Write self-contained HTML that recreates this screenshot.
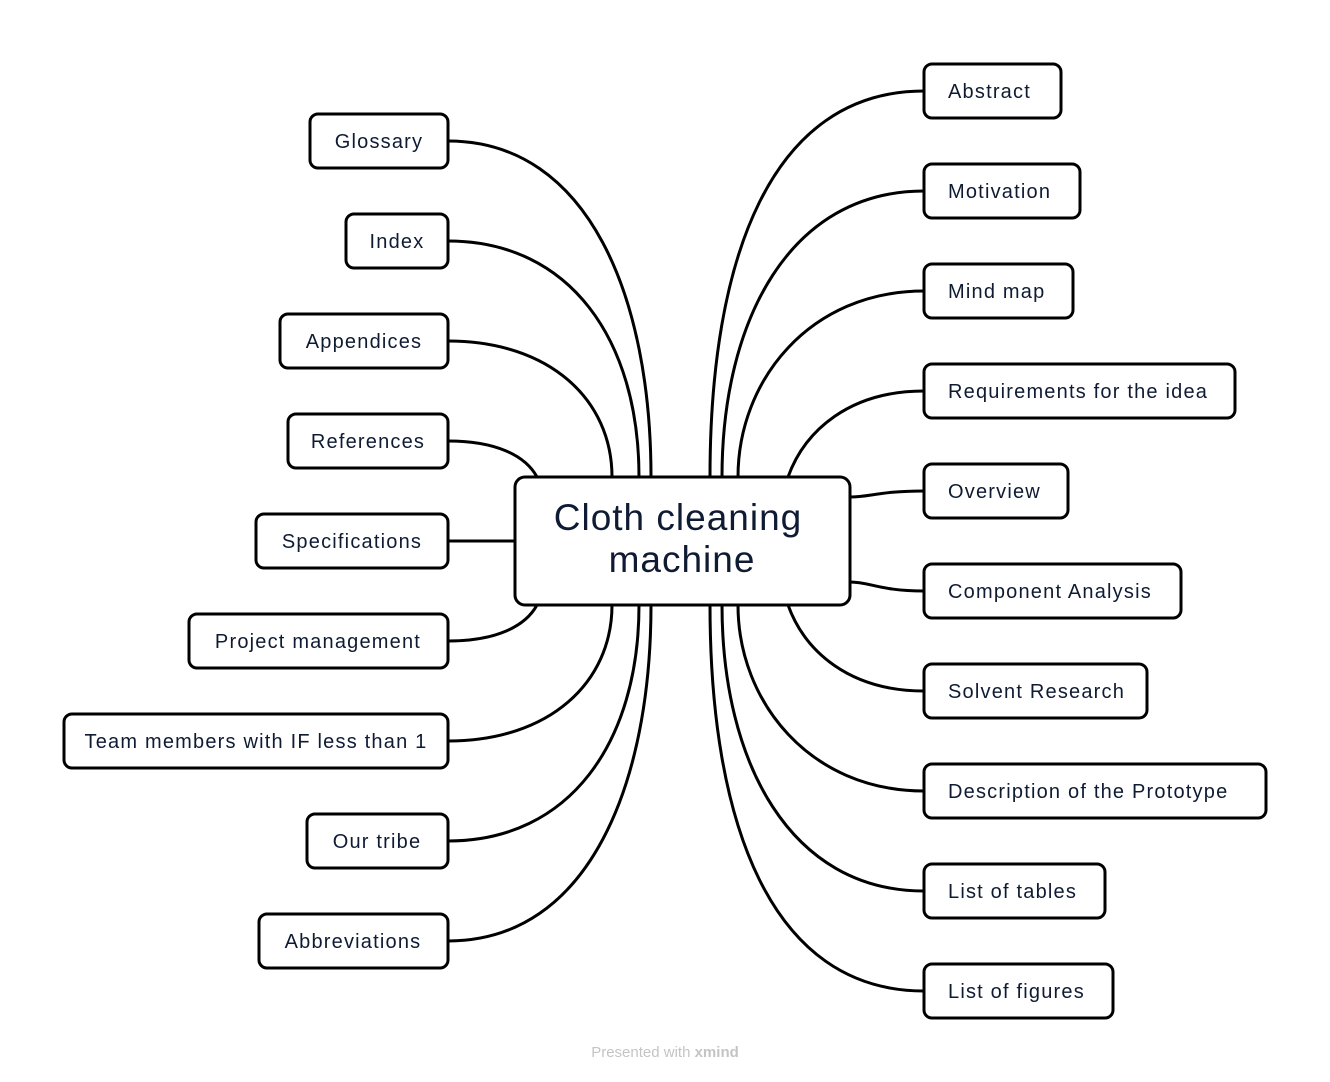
<!DOCTYPE html>
<html><head><meta charset="utf-8"><style>
html,body{margin:0;padding:0;background:#fff;}
svg{display:block;}
text{font-family:"Liberation Sans",sans-serif;fill:#0f1b33;}
</style></head><body>
<svg width="1330" height="1082" viewBox="0 0 1330 1082" xmlns="http://www.w3.org/2000/svg">
<g fill="none" stroke="#000" stroke-width="3" stroke-linecap="round">
<path d="M448,141 C590,141 651,300 651,477"/>
<path d="M448,241 C570,241 639,340 639,477"/>
<path d="M448,341 C550,341 612,400 612,477"/>
<path d="M448,441 C495,441 525,455 537,477"/>
<path d="M448,541 L515,541"/>
<path d="M448,641 C495,641 525,627 537,605"/>
<path d="M448,741 C550,741 612,682 612,605"/>
<path d="M448,841 C570,841 639,742 639,605"/>
<path d="M448,941 C590,941 651,782 651,605"/>
<path d="M924,91 C770,91 710,260 710,477"/>
<path d="M924,191 C790,191 722,320 722,477"/>
<path d="M924,291 C810,291 738,380 738,477"/>
<path d="M924,391 C850,391 805,430 788,477"/>
<path d="M924,491 C880,491 870,497 850,497"/>
<path d="M924,591 C880,591 870,582 850,582"/>
<path d="M924,691 C850,691 805,652 788,605"/>
<path d="M924,791 C810,791 738,702 738,605"/>
<path d="M924,891 C790,891 722,762 722,605"/>
<path d="M924,991 C770,991 710,822 710,605"/>
</g>
<g fill="#fff" stroke="#000" stroke-width="3">
<rect x="515" y="477" width="335" height="128" rx="10"/>
<rect x="310" y="114" width="138" height="54" rx="8"/>
<rect x="346" y="214" width="102" height="54" rx="8"/>
<rect x="280" y="314" width="168" height="54" rx="8"/>
<rect x="288" y="414" width="160" height="54" rx="8"/>
<rect x="256" y="514" width="192" height="54" rx="8"/>
<rect x="189" y="614" width="259" height="54" rx="8"/>
<rect x="64" y="714" width="384" height="54" rx="8"/>
<rect x="307" y="814" width="141" height="54" rx="8"/>
<rect x="259" y="914" width="189" height="54" rx="8"/>
<rect x="924" y="64" width="137" height="54" rx="8"/>
<rect x="924" y="164" width="156" height="54" rx="8"/>
<rect x="924" y="264" width="149" height="54" rx="8"/>
<rect x="924" y="364" width="311" height="54" rx="8"/>
<rect x="924" y="464" width="144" height="54" rx="8"/>
<rect x="924" y="564" width="257" height="54" rx="8"/>
<rect x="924" y="664" width="223" height="54" rx="8"/>
<rect x="924" y="764" width="342" height="54" rx="8"/>
<rect x="924" y="864" width="181" height="54" rx="8"/>
<rect x="924" y="964" width="189" height="54" rx="8"/>
</g>
<g font-size="20" text-anchor="middle" letter-spacing="1.2">
<text x="379" y="148">Glossary</text>
<text x="397" y="248">Index</text>
<text x="364" y="348">Appendices</text>
<text x="368" y="448">References</text>
<text x="352" y="548">Specifications</text>
<text x="318" y="648">Project management</text>
<text x="256" y="748">Team members with IF less than 1</text>
<text x="377" y="848">Our tribe</text>
<text x="353" y="948">Abbreviations</text>
</g>
<g font-size="20" letter-spacing="1.2">
<text x="948" y="98">Abstract</text>
<text x="948" y="198">Motivation</text>
<text x="948" y="298">Mind map</text>
<text x="948" y="398">Requirements for the idea</text>
<text x="948" y="498">Overview</text>
<text x="948" y="598">Component Analysis</text>
<text x="948" y="698">Solvent Research</text>
<text x="948" y="798">Description of the Prototype</text>
<text x="948" y="898">List of tables</text>
<text x="948" y="998">List of figures</text>
</g>
<g font-size="37" text-anchor="middle" letter-spacing="1">
<text x="678" y="530">Cloth cleaning</text>
<text x="682" y="572">machine</text>
</g>
<text x="665" y="1057" font-size="15" text-anchor="middle" style="fill:#c4c4c4">Presented with <tspan font-weight="bold">xmind</tspan></text>
</svg>
</body></html>
